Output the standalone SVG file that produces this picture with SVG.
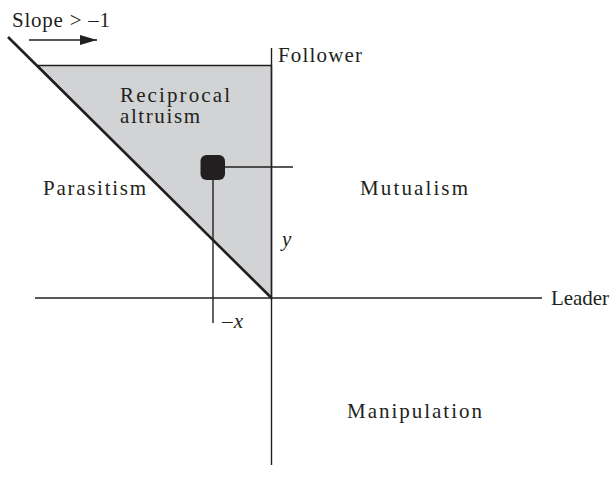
<svg xmlns="http://www.w3.org/2000/svg" width="615" height="491" viewBox="0 0 615 491">
<style>
text{font-family:"Liberation Serif","DejaVu Serif",serif;font-size:21px;fill:#231f20}
.it{font-style:italic}
.ax{stroke:#231f20;stroke-width:1.4;fill:none}
</style>
<defs>
<marker id="ah" markerWidth="17" markerHeight="10" refX="17" refY="5" orient="auto" markerUnits="userSpaceOnUse" viewBox="0 0 17 10">
<path d="M0,0 L17,5 L0,10 Z" fill="#231f20"/>
</marker>
</defs>
<rect width="615" height="491" fill="#fff"/>
<g id="region">
<polygon points="37.5,65.5 271.5,65.5 271.5,298" fill="#d1d3d4" stroke="#231f20" stroke-width="1.4"/>
</g>
<g id="connectors">
<line class="ax" x1="271.5" y1="48" x2="271.5" y2="465"/>
<line class="ax" x1="35" y1="298" x2="542" y2="298"/>
<line x1="8" y1="37" x2="271.5" y2="298" stroke="#231f20" stroke-width="2.6"/>
<line class="ax" x1="225" y1="167" x2="293" y2="167"/>
<line class="ax" x1="213" y1="178" x2="213" y2="323"/>
<line x1="29" y1="40" x2="97" y2="40" stroke="#231f20" stroke-width="1.4" marker-end="url(#ah)"/>
</g>
<g id="point">
<rect x="200.5" y="155" width="24.5" height="25" rx="6" fill="#231f20"/>
</g>
<g id="labels">
<text x="12" y="27" textLength="98" lengthAdjust="spacing">Slope &gt; –1</text>
<text x="278" y="62" textLength="84" lengthAdjust="spacing">Follower</text>
<text x="120" y="102" textLength="110" lengthAdjust="spacing">Reciprocal</text>
<text x="120" y="123" textLength="80" lengthAdjust="spacing">altruism</text>
<text x="43" y="195" textLength="103" lengthAdjust="spacing">Parasitism</text>
<text x="360" y="195" textLength="108" lengthAdjust="spacing">Mutualism</text>
<text class="it" x="282" y="246">y</text>
<text class="it" x="222" y="328" textLength="21" lengthAdjust="spacing">–x</text>
<text x="551" y="305" textLength="58" lengthAdjust="spacing">Leader</text>
<text x="347" y="418" textLength="135" lengthAdjust="spacing">Manipulation</text>
</g>
</svg>
